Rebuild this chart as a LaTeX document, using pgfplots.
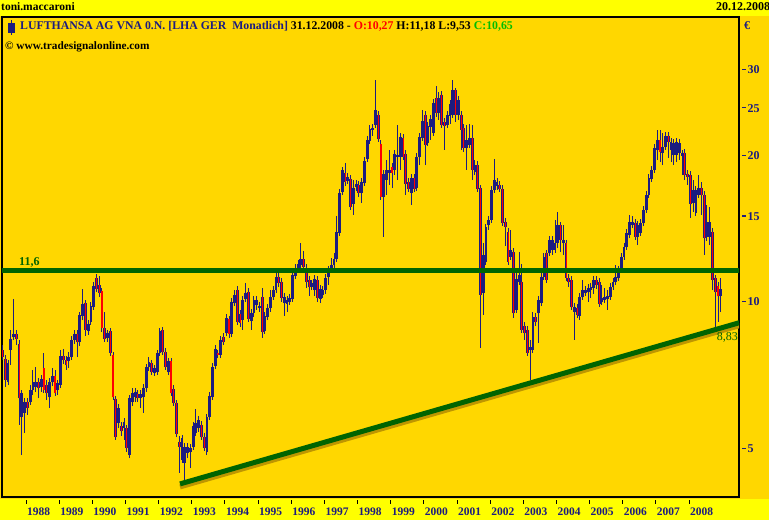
\documentclass[border=0pt]{standalone}
\usepackage{pgfplots}
\pgfplotsset{compat=1.18}
\usepackage{pgfplotstable}
\usepackage{fontspec}
\setmainfont{Liberation Serif}
\definecolor{gold}{RGB}{255,215,0}
\definecolor{yel}{RGB}{255,255,0}
\definecolor{navy}{RGB}{28,28,128}
\definecolor{dgreen}{RGB}{0,100,0}
\definecolor{cgreen}{RGB}{0,190,0}
\definecolor{shdw}{RGB}{190,150,0}
\newcommand\tdash{\rule[0.3em]{4pt}{1.2pt}\hspace{1.5pt}}
\pgfplotstableread{
yr mo O H L C
1987 4 7.97 8.16 7.60 7.71
1987 5 7.64 7.78 6.69 6.92
1987 6 6.85 7.60 6.75 7.50
1987 7 7.97 8.76 7.42 8.40
1987 8 8.47 10.14 8.36 8.60
1987 9 8.60 8.76 8.16 8.40
1987 10 8.20 8.36 5.59 6.35
1987 11 5.81 6.60 4.85 6.50
1987 12 5.92 6.35 5.38 6.23
1988 1 6.23 6.35 5.86 6.06
1988 2 6.23 6.75 6.15 6.60
1988 3 6.60 7.25 6.44 6.85
1988 4 6.69 7.35 6.54 6.85
1988 5 6.85 6.98 6.35 6.66
1988 6 6.69 7.08 6.54 6.95
1988 7 7.32 7.86 6.50 6.60
1988 8 6.75 6.92 6.29 6.50
1988 9 6.38 6.98 6.06 6.85
1988 10 6.85 7.32 6.72 7.05
1988 11 7.05 7.25 6.41 6.50
1988 12 6.60 6.92 6.44 6.82
1989 1 6.75 7.97 6.66 7.75
1989 2 7.75 8.01 7.46 7.60
1989 3 7.60 7.75 7.25 7.42
1989 4 7.57 7.90 7.32 7.71
1989 5 7.71 8.52 7.60 8.36
1989 6 8.36 8.76 8.20 8.60
1989 7 8.60 8.76 7.71 8.28
1989 8 8.28 9.54 8.12 9.41
1989 9 9.36 10.63 9.18 9.91
1989 10 9.95 10.10 8.52 8.76
1989 11 8.72 9.18 8.56 9.01
1989 12 9.10 10.00 8.97 9.81
1990 1 9.77 10.99 9.63 10.79
1990 2 11.20 11.42 10.48 10.63
1990 3 10.84 11.31 10.24 10.43
1990 4 10.53 10.68 8.68 8.84
1990 5 8.84 9.54 8.28 8.40
1990 6 8.44 8.76 8.28 8.64
1990 7 8.72 8.84 7.75 7.86
1990 8 7.78 7.90 6.29 6.38
1990 9 6.32 6.41 5.21 5.28
1990 10 5.64 6.17 5.51 6.06
1990 11 5.56 5.67 5.31 5.43
1990 12 5.51 5.78 5.21 5.67
1991 1 5.51 5.59 4.92 5.01
1991 2 4.85 6.44 4.78 6.35
1991 3 6.23 6.66 6.12 6.50
1991 4 6.38 6.66 6.23 6.54
1991 5 6.47 6.60 6.23 6.35
1991 6 6.35 6.60 6.06 6.47
1991 7 6.38 6.79 5.92 6.66
1991 8 6.66 7.46 6.54 7.35
1991 9 7.35 7.71 7.22 7.53
1991 10 7.50 7.60 7.08 7.18
1991 11 7.15 7.42 7.05 7.32
1991 12 7.18 7.97 7.08 7.86
1992 1 7.86 8.84 7.75 8.72
1992 2 8.76 8.89 7.78 7.90
1992 3 7.90 8.05 7.25 7.35
1992 4 7.18 7.67 7.08 7.57
1992 5 7.57 7.67 6.41 6.50
1992 6 6.63 6.75 6.12 6.20
1992 7 6.20 6.29 5.28 5.36
1992 8 5.16 5.31 4.46 5.04
1992 9 4.74 5.33 4.67 5.26
1992 10 4.67 5.14 4.31 5.04
1992 11 4.90 5.14 4.78 5.04
1992 12 4.92 5.11 4.56 5.01
1993 1 5.04 5.67 4.97 5.56
1993 2 5.38 6.03 5.31 5.64
1993 3 5.51 5.83 5.41 5.72
1993 4 5.59 5.70 5.21 5.28
1993 5 5.28 5.38 4.94 5.01
1993 6 4.92 5.89 4.85 5.81
1993 7 5.81 6.54 5.72 6.41
1993 8 6.38 7.50 6.29 7.35
1993 9 7.39 8.16 7.29 8.01
1993 10 7.86 7.97 7.67 7.78
1993 11 7.78 8.52 7.67 8.36
1993 12 8.47 8.64 8.16 8.28
1994 1 8.64 9.45 8.52 9.27
1994 2 9.23 9.36 8.44 8.60
1994 3 8.60 10.19 8.47 10.00
1994 4 9.95 10.58 9.81 10.34
1994 5 10.58 10.79 8.97 9.10
1994 6 9.45 9.63 8.89 9.06
1994 7 9.18 10.29 8.76 10.10
1994 8 10.14 10.94 10.00 10.43
1994 9 10.48 10.68 9.10 9.23
1994 10 9.14 9.67 8.76 9.49
1994 11 9.49 10.29 9.32 10.10
1994 12 9.86 10.29 9.63 10.10
1995 1 9.72 10.00 9.54 9.81
1995 2 10.24 10.68 8.44 8.68
1995 3 8.72 9.54 8.60 9.36
1995 4 9.32 9.91 9.18 9.72
1995 5 9.72 10.58 9.54 10.24
1995 6 10.24 10.79 10.10 10.58
1995 7 10.58 11.52 10.43 11.26
1995 8 11.26 11.63 10.73 10.94
1995 9 10.99 11.20 10.00 10.19
1995 10 9.95 10.43 9.36 10.24
1995 11 9.91 10.29 9.54 10.10
1995 12 10.00 10.39 9.86 10.19
1996 1 10.14 11.58 10.00 11.36
1996 2 11.31 11.97 11.15 11.74
1996 3 11.69 12.20 11.52 11.97
1996 4 11.91 13.22 11.74 12.26
1996 5 12.26 12.73 11.63 11.80
1996 6 11.74 11.97 10.68 10.99
1996 7 11.10 11.31 10.29 10.73
1996 8 10.73 11.10 10.58 10.94
1996 9 10.58 11.36 10.29 11.15
1996 10 11.10 11.31 10.00 10.19
1996 11 10.14 10.84 9.95 10.63
1996 12 10.34 10.79 10.19 10.58
1997 1 10.58 11.42 10.39 11.20
1997 2 11.26 11.86 10.84 11.47
1997 3 11.63 12.31 11.47 11.91
1997 4 11.91 12.61 11.74 12.26
1997 5 12.26 15.02 12.08 13.92
1997 6 13.86 17.06 13.66 16.74
1997 7 16.82 18.93 16.59 18.67
1997 8 18.40 19.30 17.31 17.64
1997 9 17.72 18.40 17.47 18.06
1997 10 17.89 18.23 15.45 15.67
1997 11 15.90 17.81 15.09 17.14
1997 12 17.22 17.81 16.90 17.47
1998 1 17.39 17.72 16.43 16.74
1998 2 16.74 17.97 15.97 17.64
1998 3 17.55 19.85 17.31 19.48
1998 4 19.66 21.92 19.39 21.51
1998 5 21.41 23.09 21.11 22.66
1998 6 22.55 23.20 21.92 22.77
1998 7 23.09 28.57 22.77 24.79
1998 8 24.21 24.67 21.31 21.61
1998 9 21.11 21.51 16.20 16.43
1998 10 16.43 18.67 13.60 18.32
1998 11 17.81 19.57 16.59 18.67
1998 12 18.40 20.52 17.39 18.67
1999 1 18.93 19.30 17.14 18.40
1999 2 18.67 20.52 18.23 20.13
1999 3 19.85 23.09 17.81 20.04
1999 4 19.85 22.24 18.67 21.82
1999 5 21.72 22.13 19.57 19.85
1999 6 20.13 20.52 16.59 17.47
1999 7 17.64 17.97 16.82 17.06
1999 8 16.74 18.32 15.82 17.97
1999 9 17.97 18.32 16.82 17.06
1999 10 17.14 20.23 16.90 19.85
1999 11 19.85 22.24 19.11 21.82
1999 12 21.72 24.79 21.41 23.53
2000 1 24.21 24.67 19.11 21.01
2000 2 21.21 23.42 20.91 22.98
2000 3 22.88 24.21 21.51 23.76
2000 4 22.24 26.11 21.92 25.63
2000 5 26.24 27.77 23.98 24.44
2000 6 24.44 26.99 23.65 26.24
2000 7 26.61 27.12 22.77 23.09
2000 8 23.42 23.87 20.52 22.98
2000 9 23.09 24.67 22.77 24.21
2000 10 24.10 25.99 23.20 25.50
2000 11 24.21 28.57 23.87 27.25
2000 12 27.25 27.51 23.42 24.21
2001 1 24.21 26.49 23.65 25.99
2001 2 24.21 24.67 20.52 22.55
2001 3 22.77 23.20 20.33 20.71
2001 4 20.71 23.09 18.67 21.51
2001 5 21.01 23.20 20.71 21.72
2001 6 21.72 23.09 17.81 18.67
2001 7 18.49 19.57 18.23 19.11
2001 8 19.11 19.48 16.82 17.06
2001 9 17.14 17.39 8.05 10.34
2001 10 10.43 13.22 9.41 12.49
2001 11 12.08 14.46 11.91 14.26
2001 12 14.39 15.02 14.06 14.74
2002 1 14.74 17.31 14.53 16.98
2002 2 16.98 19.66 16.74 17.81
2002 3 17.31 17.97 16.98 17.64
2002 4 17.39 17.72 16.82 17.06
2002 5 17.06 17.39 14.32 14.53
2002 6 14.60 14.88 13.03 14.26
2002 7 13.92 14.19 11.91 12.08
2002 8 12.37 14.06 12.20 12.79
2002 9 12.67 12.91 9.27 9.49
2002 10 9.63 11.69 9.49 11.15
2002 11 10.99 12.67 10.84 11.36
2002 12 10.99 11.97 8.64 8.76
2003 1 8.93 9.10 8.36 8.64
2003 2 8.76 8.93 7.75 7.86
2003 3 7.97 8.36 6.92 8.08
2003 4 7.97 9.54 7.86 9.32
2003 5 9.32 9.49 8.93 9.10
2003 6 9.49 10.29 8.24 10.10
2003 7 9.95 11.47 9.81 11.26
2003 8 11.26 12.61 11.10 12.37
2003 9 12.61 12.79 10.94 11.10
2003 10 12.61 13.66 12.43 13.41
2003 11 12.79 13.66 12.49 13.41
2003 12 12.79 14.74 12.61 13.22
2004 1 13.22 15.31 12.91 14.39
2004 2 14.39 14.60 12.67 13.41
2004 3 13.22 14.39 12.49 13.41
2004 4 13.22 13.41 11.04 11.20
2004 5 11.20 11.42 10.73 10.99
2004 6 11.10 11.31 9.63 9.77
2004 7 9.54 9.95 8.36 9.77
2004 8 9.72 9.91 9.27 9.41
2004 9 9.36 10.43 9.18 10.24
2004 10 10.24 11.10 10.10 10.58
2004 11 10.43 10.79 10.29 10.58
2004 12 10.48 10.89 10.00 10.68
2005 1 10.58 10.94 10.19 10.73
2005 2 10.68 11.31 10.39 11.10
2005 3 11.10 11.31 10.63 10.84
2005 4 10.99 11.20 9.77 9.91
2005 5 10.00 10.84 9.86 10.19
2005 6 10.10 10.68 9.95 10.24
2005 7 10.14 10.58 9.63 10.29
2005 8 10.24 10.94 10.10 10.73
2005 9 10.73 11.20 10.58 10.99
2005 10 10.99 11.91 10.84 11.26
2005 11 11.20 11.86 11.04 11.63
2005 12 11.63 12.61 11.47 12.37
2006 1 12.37 13.22 12.20 12.97
2006 2 12.97 14.12 12.79 13.86
2006 3 13.73 15.09 13.53 14.60
2006 4 14.39 15.02 14.19 14.60
2006 5 14.53 14.81 13.41 13.60
2006 6 13.60 14.67 13.09 14.39
2006 7 13.86 14.81 13.66 14.53
2006 8 14.53 15.75 14.32 15.45
2006 9 15.45 16.90 15.23 16.59
2006 10 16.59 18.32 16.35 17.97
2006 11 17.89 19.02 17.64 18.67
2006 12 18.67 21.11 18.40 20.71
2007 1 20.52 22.55 19.57 21.51
2007 2 21.51 22.55 19.39 20.33
2007 3 20.23 22.24 19.11 20.81
2007 4 20.81 22.34 20.52 21.92
2007 5 21.92 22.34 19.76 21.31
2007 6 20.52 21.72 19.39 21.31
2007 7 20.04 21.61 19.11 21.21
2007 8 20.04 21.72 19.39 21.31
2007 9 20.23 21.61 19.57 21.21
2007 10 19.94 20.52 18.23 20.23
2007 11 20.23 20.62 17.81 18.23
2007 12 18.32 18.67 17.39 18.06
2008 1 18.23 18.58 14.88 15.90
2008 2 15.97 17.81 15.31 16.98
2008 3 15.23 17.31 15.02 16.98
2008 4 16.59 18.23 16.35 17.14
2008 5 17.14 17.64 15.09 16.59
2008 6 16.59 16.90 12.49 13.53
2008 7 13.60 15.82 13.34 14.60
2008 8 13.60 15.67 13.09 14.60
2008 9 13.92 14.19 10.58 11.10
2008 10 11.20 11.36 8.76 10.48
2008 11 10.79 10.99 9.10 10.27
2008 12 10.27 11.18 9.53 10.65
}\lha
\begin{document}
\begin{tikzpicture}[x=1pt,y=1pt]
\useasboundingbox (0,0) rectangle (769,520);
\fill[yel] (0,0) rectangle (769,520);
\fill[gold] (0,21) rectangle (769,504);
\begin{axis}[
  at={(2pt,23pt)}, anchor=south west, scale only axis,
  width=737pt, height=480pt,
  xmin=1987.276, xmax=2009.508,
  ymode=log, ymin=3.977, ymax=38.48,
  axis line style={black, line width=1.2pt},
  xtick={1988,...,2008},
  xticklabels={1988,1989,1990,1991,1992,1993,1994,1995,1996,1997,1998,1999,2000,2001,2002,2003,2004,2005,2006,2007,2008},
  xtick pos=bottom, tick align=outside,
  major tick length=4pt,
  xtick style={black, line width=0.8pt, yshift=-3pt},
  xticklabel style={anchor=north west, inner sep=0pt, xshift=1pt, yshift=-7pt, text=navy, font=\fontsize{11.5}{13}\selectfont\bfseries},
  ytick={5,10,15,20,25,30},
  yticklabels={\tdash 5,\tdash 10,\tdash 15,\tdash 20,\tdash 25,\tdash 30},
  ytick pos=right,
  ytick style={draw=none},
  yticklabel style={anchor=west, inner sep=0pt, xshift=-1pt, text=navy, font=\fontsize{12}{14}\selectfont\bfseries},
  yminorticks=false, xminorticks=false,
]
% wicks
\addplot[draw=none, no markers, forget plot, error bars/.cd, y dir=plus, y explicit,
  error mark=none, error bar style={draw=navy, line width=1pt}]
  table[x expr=\thisrow{yr}+(\thisrow{mo}-0.5)/12, y=L,
        y error plus expr=\thisrow{H}-\thisrow{L}] {\lha};
% bodies
\addplot[draw=none, no markers, forget plot, error bars/.cd, y dir=plus, y explicit,
  error mark=none, error bar style={draw=navy, line width=2.8pt}]
  table[x expr=\thisrow{yr}+(\thisrow{mo}-0.5)/12, y expr={min(\thisrow{O},\thisrow{C})},
        y error plus expr={abs(\thisrow{C}-\thisrow{O})}] {\lha};
% red inner of falling candles
\addplot[draw=none, no markers, forget plot, error bars/.cd, y dir=plus, y explicit,
  error mark=none, error bar style={draw=red, line width=1.1pt}]
  table[x expr=\thisrow{yr}+(\thisrow{mo}-0.5)/12, y expr={\thisrow{C}<\thisrow{O} ? \thisrow{C} : nan},
        y error plus expr={abs(\thisrow{O}-\thisrow{C})}] {\lha};
% lines
\addplot[draw=shdw, line width=5pt, yshift=-3pt, no markers] coordinates {(1992.646,4.23) (2009.6,9.10)};
\addplot[draw=dgreen, line width=5pt, no markers] coordinates {(1992.646,4.23) (2009.6,9.10)};
\addplot[draw=dgreen, line width=5pt, no markers] coordinates {(1987,11.6) (2010,11.6)};
\end{axis}
% texts
\node[anchor=base west, inner sep=0, font=\fontsize{11.5}{13}\selectfont\bfseries] at (1,509) {toni.maccaroni};
\node[anchor=base west, inner sep=0, font=\fontsize{12}{14}\selectfont\bfseries] at (716,509) {20.12.2008};
\fill[navy] (8,487) rectangle (15,497);
\draw[navy, line width=1pt] (11.5,485) -- (11.5,500);
\node[anchor=base west, inner sep=0, font=\fontsize{11.8}{14}\selectfont\bfseries] at (20,490)
  {\textcolor{navy}{LUFTHANSA AG VNA 0.N. [LHA GER\ \ Monatlich]} 31.12.2008 - \textcolor{red}{O:10,27} H:11,18 L:9,53 \textcolor{cgreen}{C:10,65}};
\node[anchor=base west, inner sep=0, font=\fontsize{11.3}{13}\selectfont\bfseries] at (5,470) {© www.tradesignalonline.com};
\node[anchor=base west, inner sep=0, text=navy, font=\fontsize{12}{14}\selectfont\bfseries] at (744,490) {€};
\node[anchor=base west, inner sep=0, text=dgreen, font=\fontsize{12}{14}\selectfont\bfseries] at (19,254) {11,6};
\node[anchor=base east, inner sep=0, text=dgreen, font=\fontsize{12}{14}\selectfont] at (738,179) {8,83};
\end{tikzpicture}
\end{document}
